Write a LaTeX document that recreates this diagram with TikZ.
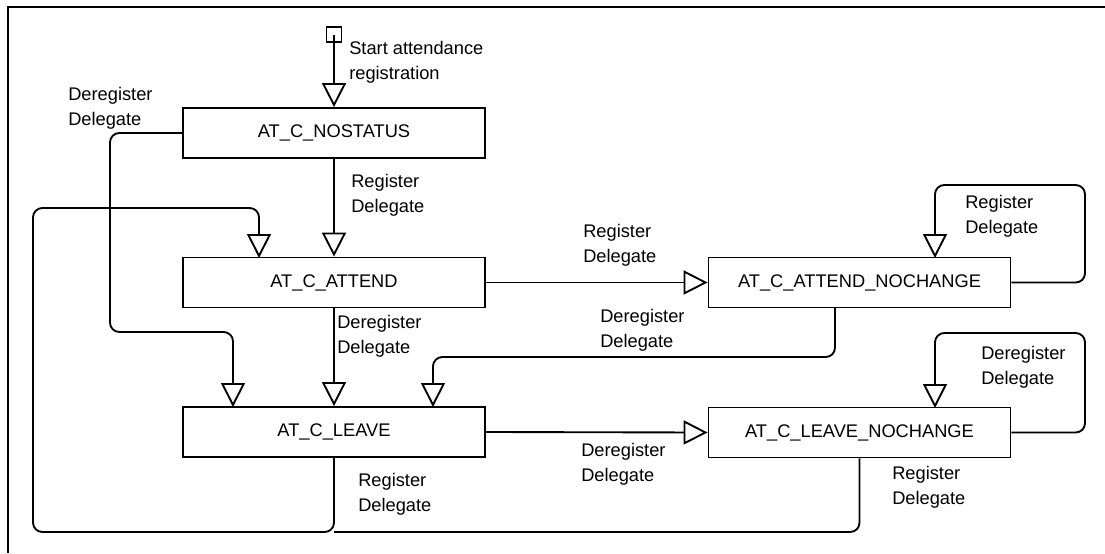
\documentclass[tikz,border=0pt]{standalone}
\usepackage{fontspec}
\setmainfont{Liberation Sans}
\usetikzlibrary{arrows.meta}
\begin{document}
\begin{tikzpicture}[x=0.75pt,y=-0.75pt,
  state/.style={draw,line width=1.4pt,minimum width=226.5pt,minimum height=37.5pt,inner sep=0pt,font=\fontsize{13.7}{18.5}\selectfont},
  lbl/.style={anchor=west,align=left,inner sep=0pt,font=\fontsize{13.7}{18.5}\selectfont},
  conn/.style={line width=1.4pt,rounded corners=7pt},
  arr/.style={conn,-{Triangle[open,length=18pt,width=18pt]}},
  startbox/.style={draw,line width=1.4pt,minimum size=11.25pt,inner sep=0pt}]
\useasboundingbox (0,0) rectangle (1105,553);
% frame
\draw[line width=1.7pt] (8,553) -- (8,7) -- (1105,7);
% states
\node[startbox] (start) at (334,34.5) {};
\node[state] (NOS) at (334,133) {AT\_C\_NOSTATUS};
\node[state] (ATT) at (334,282.5) {AT\_C\_ATTEND};
\node[state] (LEA) at (334,432) {AT\_C\_LEAVE};
\node[state] (ANC) at (859.5,282.5) {AT\_C\_ATTEND\_NOCHANGE};
\node[state] (LNC) at (859.5,432.5) {AT\_C\_LEAVE\_NOCHANGE};
% helper coordinates
\coordinate (jn) at (334,532);
% connectors
\draw[arr] (start.center) -- (NOS.north);
\draw[arr] (NOS.south) -- (ATT.north);
\draw[arr] (NOS.west) -- (110,133) -- (110,332) -- (233,332) -- (233,407);
\draw[arr] (ATT.south) -- (LEA.north);
\draw[arr] (LEA.south) -- (jn) -- (33,532) -- (33,208) -- (259,208) -- (259,258);
\draw[conn] (LNC.south) -- (859.5,532) -- (jn);
\draw[arr] (ATT.east) -- (ANC.west);
\draw[arr] (ANC.east) -- (1085,282.5) -- (1085,185) -- (935,185) -- (935,258);
\draw[arr] (835,307) -- (835,357) -- (433,357) -- (433,407);
\draw[arr] (LEA.east) -- (LNC.west);
\draw[arr] (LNC.east) -- (1085,432.5) -- (1085,333) -- (935,333) -- (935,408);
% labels
\node[lbl] (l1) at (349,62) {Start attendance\\registration};
\node[lbl] (l2) at (68,108.5) {Deregister\\Delegate};
\node[lbl] (l3) at (351,195) {Register\\Delegate};
\node[lbl] (l4) at (337,336) {Deregister\\Delegate};
\node[lbl] (l5) at (358,494.5) {Register\\Delegate};
\node[lbl] (l6) at (583,245.5) {Register\\Delegate};
\node[lbl] (l7) at (600,330) {Deregister\\Delegate};
\node[lbl] (l8) at (581,464.5) {Deregister\\Delegate};
\node[lbl] (l9) at (965,216.5) {Register\\Delegate};
\node[lbl] (l10) at (981,367.5) {Deregister\\Delegate};
\node[lbl] (l11) at (892,487.5) {Register\\Delegate};
\end{tikzpicture}
\end{document}
